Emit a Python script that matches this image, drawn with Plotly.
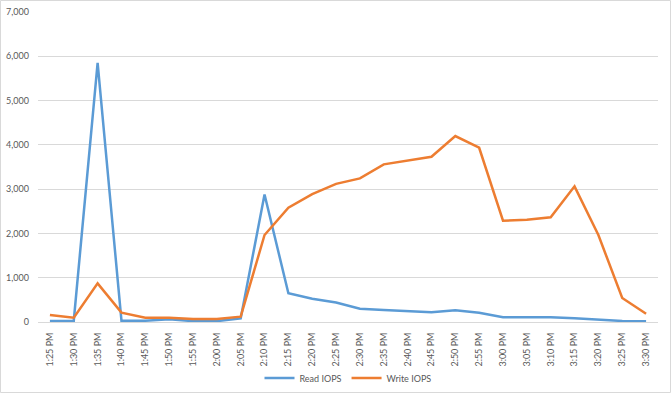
import plotly.graph_objects as go

times = ["1:25 PM", "1:30 PM", "1:35 PM", "1:40 PM", "1:45 PM", "1:50 PM", "1:55 PM",
         "2:00 PM", "2:05 PM", "2:10 PM", "2:15 PM", "2:20 PM", "2:25 PM", "2:30 PM",
         "2:35 PM", "2:40 PM", "2:45 PM", "2:50 PM", "2:55 PM", "3:00 PM", "3:05 PM",
         "3:10 PM", "3:15 PM", "3:20 PM", "3:25 PM", "3:30 PM"]
read_iops = [20, 30, 5850, 30, 30, 60, 20, 20, 80, 2880, 650, 527, 440, 300,
             270, 248, 218, 263, 211, 105, 105, 105, 83, 53, 23, 15]
write_iops = [158, 98, 873, 211, 98, 98, 68, 68, 120, 1964, 2581, 2889, 3120, 3243,
              3559, 3650, 3732, 4199, 3935, 2287, 2310, 2363, 3063, 1964, 542, 188]

W, H = 671, 393
ml, mr, mt, mb = 38, 13, 12, 71
pw, ph = W - ml - mr, H - mt - mb

fig = go.Figure()
fig.add_trace(go.Scatter(x=times, y=read_iops, mode="lines", name="Read IOPS",
                         line=dict(color="#5B9BD5", width=2.5)))
fig.add_trace(go.Scatter(x=times, y=write_iops, mode="lines", name="Write IOPS",
                         line=dict(color="#ED7D31", width=2.5)))

fig.update_layout(
    width=W, height=H,
    margin=dict(l=ml, r=mr, t=mt, b=mb, autoexpand=False),
    paper_bgcolor="white", plot_bgcolor="white",
    font=dict(family="Lato, Noto Sans, sans-serif", size=9, color="#595959"),
    showlegend=True,
    legend=dict(orientation="h", x=0.5, xanchor="center", y=-(378 - (H - mb)) / ph,
                yanchor="middle", font=dict(size=9, color="#595959"), itemwidth=30,
                bgcolor="rgba(0,0,0,0)"),
    xaxis=dict(type="category", tickangle=-90, showgrid=False, showline=True,
               linecolor="#D9D9D9", linewidth=1, ticks="", automargin=False,
               range=[-0.5, len(times) - 0.5], ticklabelstandoff=6,
               tickfont=dict(size=9, color="#595959")),
    yaxis=dict(range=[0, 7000], dtick=1000, tickformat=",", showgrid=True,
               gridcolor="#D9D9D9", gridwidth=1, zeroline=False, showline=False,
               ticks="", automargin=False, ticklabelstandoff=8,
               tickfont=dict(size=9, color="#595959")),
)

fig.add_shape(type="rect", xref="paper", yref="paper",
              x0=-(ml - 0.5) / pw, x1=1 + (mr - 0.5) / pw,
              y0=-(mb - 0.5) / ph, y1=1 + (mt - 0.5) / ph,
              line=dict(color="#D9D9D9", width=1), fillcolor="rgba(0,0,0,0)", layer="below")

fig.write_html("out.html", config={"displayModeBar": False},
               post_script="document.body.style.margin='0';document.body.style.overflow='hidden';")
